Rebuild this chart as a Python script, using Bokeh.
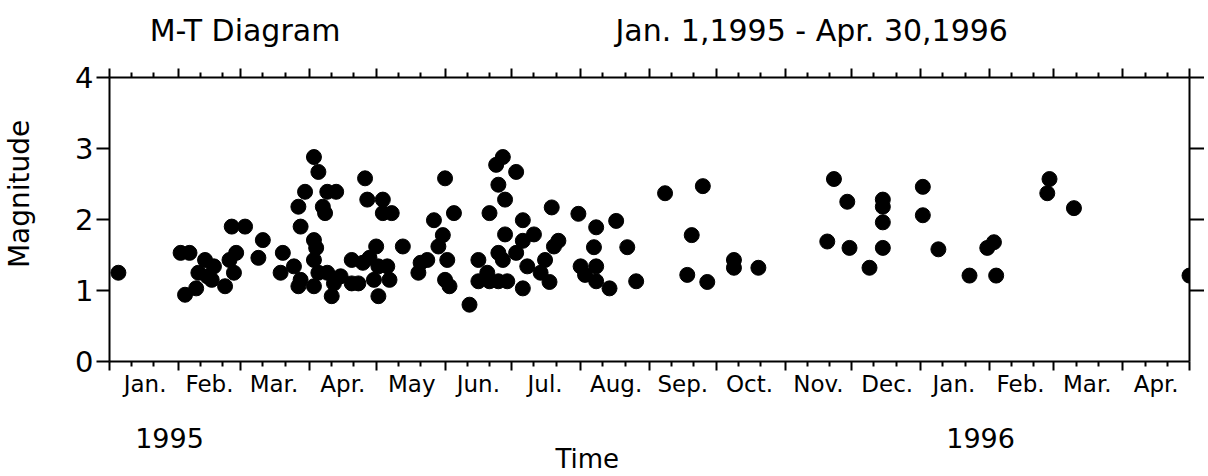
import datetime as dt
from bokeh.plotting import figure
from bokeh.models import Range1d, LinearAxis, FixedTicker, ColumnDataSource
from bokeh.embed import file_html
from bokeh.resources import INLINE

# ---------------- data ----------------
# day offset from 1995-01-01 of each event, and its magnitude
event_day = [
    4,
    32, 36, 34, 39, 40, 43, 47, 44, 46, 52, 54, 57, 56, 55, 61, 69, 67, 78, 77, 83, 85, 85, 86,
    92, 94, 88, 96, 97, 98, 102, 92, 93, 92, 86, 92, 94, 98, 101, 104, 100, 109, 109, 112,
    115, 116, 123, 123, 127, 120, 117, 114, 121, 125, 119, 126, 121,
    132, 140, 143, 139, 146, 151, 155, 150, 148, 152, 151, 153, 162, 166, 166,
    177, 174, 183, 175, 178, 171, 186, 199, 211, 219, 228, 178, 191, 186, 202, 200, 218, 233,
    175, 177, 183, 196, 188, 194, 198, 170, 171, 175, 179, 186, 212, 219, 214, 219, 225, 237,
    250, 267, 262, 260, 269, 281, 281, 292,
    326, 332, 323, 333, 342, 348, 348, 348, 348, 366, 366, 373, 387, 399, 395, 398,
    423, 422, 434, 486,
]
magnitude = [
    1.25,
    1.53, 1.53, 0.94, 1.03, 1.25, 1.43, 1.34, 1.20, 1.15, 1.06, 1.43, 1.53, 1.25, 1.90, 1.90, 1.71, 1.46, 1.53, 1.25, 1.34, 1.06, 2.18, 1.90,
    2.88, 2.67, 2.39, 2.18, 2.09, 2.39, 2.39, 1.71, 1.60, 1.43, 1.15, 1.06, 1.25, 1.25, 1.10, 1.20, 0.92, 1.43, 1.10, 1.10,
    2.58, 2.28, 2.28, 2.09, 2.09, 1.62, 1.46, 1.39, 1.34, 1.34, 1.15, 1.15, 0.92,
    1.62, 1.39, 1.43, 1.25, 1.99, 2.58, 2.09, 1.78, 1.62, 1.43, 1.15, 1.06, 0.80, 1.43, 1.13,
    2.88, 2.77, 2.67, 2.49, 2.28, 2.09, 1.99, 2.17, 2.08, 1.89, 1.98, 1.79, 1.79, 1.70, 1.70, 1.62, 1.61, 1.61,
    1.53, 1.43, 1.53, 1.43, 1.34, 1.25, 1.12, 1.25, 1.13, 1.13, 1.13, 1.03, 1.34, 1.34, 1.22, 1.13, 1.03, 1.13,
    2.37, 2.47, 1.78, 1.22, 1.12, 1.43, 1.32, 1.32,
    2.57, 2.25, 1.69, 1.60, 1.32, 2.28, 2.18, 1.96, 1.60, 2.46, 2.06, 1.58, 1.21, 1.21, 1.60, 1.68,
    2.57, 2.37, 2.16, 1.21,
]
month_names = ["Jan.", "Feb.", "Mar.", "Apr.", "May", "Jun.", "Jul.", "Aug.",
               "Sep.", "Oct.", "Nov.", "Dec.", "Jan.", "Feb.", "Mar.", "Apr."]
year_labels = ["1995", "1996"]
year_label_day = [27, 392]
y_ticks = [0, 1, 2, 3, 4]
title_text = "M-T Diagram"
period_text = "Jan. 1,1995 - Apr. 30,1996"
x_title = "Time"
y_title = "Magnitude"

# ---------------- axis structure ----------------
origin = dt.date(1995, 1, 1)
month_first = []
yy, mm = 1995, 1
for _ in range(len(month_names) + 1):
    month_first.append((dt.date(yy, mm, 1) - origin).days)
    mm += 1
    if mm > 12:
        mm, yy = 1, yy + 1
ten_day = [d + k for d in month_first[:-1] for k in (10, 20)]
month_mid = [int(round((a + b) / 2)) for a, b in zip(month_first[:-1], month_first[1:])]

FONT = "DejaVu Sans"

p = figure(width=1204, height=476,
           x_range=Range1d(0, month_first[-1]), y_range=Range1d(0, 4),
           output_backend="svg", toolbar_location=None,
           x_axis_location=None, y_axis_location=None,
           min_border_left=108, min_border_right=13,
           min_border_top=77, min_border_bottom=114)
p.grid.visible = False
p.outline_line_color = None
p.background_fill_color = "white"
p.border_fill_color = "white"

src = ColumnDataSource(dict(day=event_day, mag=magnitude))
p.scatter("day", "mag", source=src, size=15, color="black")


def text_axis(ticks, labels, size, standoff, orientation="horizontal"):
    return LinearAxis(
        ticker=FixedTicker(ticks=ticks),
        major_label_overrides={k: t for k, t in zip(ticks, labels)},
        major_label_standoff=standoff,
        major_label_text_font=FONT, major_label_text_font_size=size,
        major_label_text_color="black",
        major_label_orientation=orientation,
        major_tick_out=0, major_tick_in=0, major_tick_line_color=None,
        minor_tick_line_color=None, axis_line_color=None)


def tick_axis(major, minor, major_out, minor_out):
    return LinearAxis(
        ticker=FixedTicker(ticks=major, minor_ticks=minor),
        major_label_overrides={k: "" for k in major},
        major_label_text_color=None, major_label_standoff=0,
        major_label_text_font_size="1px",
        major_tick_out=major_out, major_tick_in=0, major_tick_line_width=2,
        minor_tick_out=minor_out, minor_tick_in=0, minor_tick_line_width=2,
        major_tick_line_color="black", minor_tick_line_color="black",
        axis_line_color="black", axis_line_width=2)


# bottom: ticks, month names, years, axis title
p.add_layout(tick_axis(month_first, ten_day, 9, 5), "below")
p.add_layout(text_axis(month_mid, month_names, "23px", 0), "below")
p.add_layout(text_axis(year_label_day, year_labels, "27px", 28), "below")
p.add_layout(text_axis([215], [x_title], "26px", -7), "below")

# top: ticks, then the two header texts
p.add_layout(tick_axis(month_first, ten_day, 9, 5), "above")
p.add_layout(text_axis([61, 316], [title_text, period_text], "30px", 21), "above")

# left: magnitude ticks and labels, then the rotated axis title
left = LinearAxis(
    ticker=FixedTicker(ticks=y_ticks),
    axis_line_width=2, axis_line_color="black",
    major_tick_out=13, major_tick_in=0, major_tick_line_width=2,
    minor_tick_line_color=None,
    major_label_standoff=3,
    major_label_text_font=FONT, major_label_text_font_size="29px",
    major_label_text_color="black")
p.add_layout(left, "left")
p.add_layout(text_axis([2.36], [y_title], "28px", 36, orientation="vertical"), "left")

# right: plain ticks
p.add_layout(tick_axis([1, 2, 3, 4], [], 15, 0), "right")

open("out.html", "w").write(file_html(p, INLINE))
